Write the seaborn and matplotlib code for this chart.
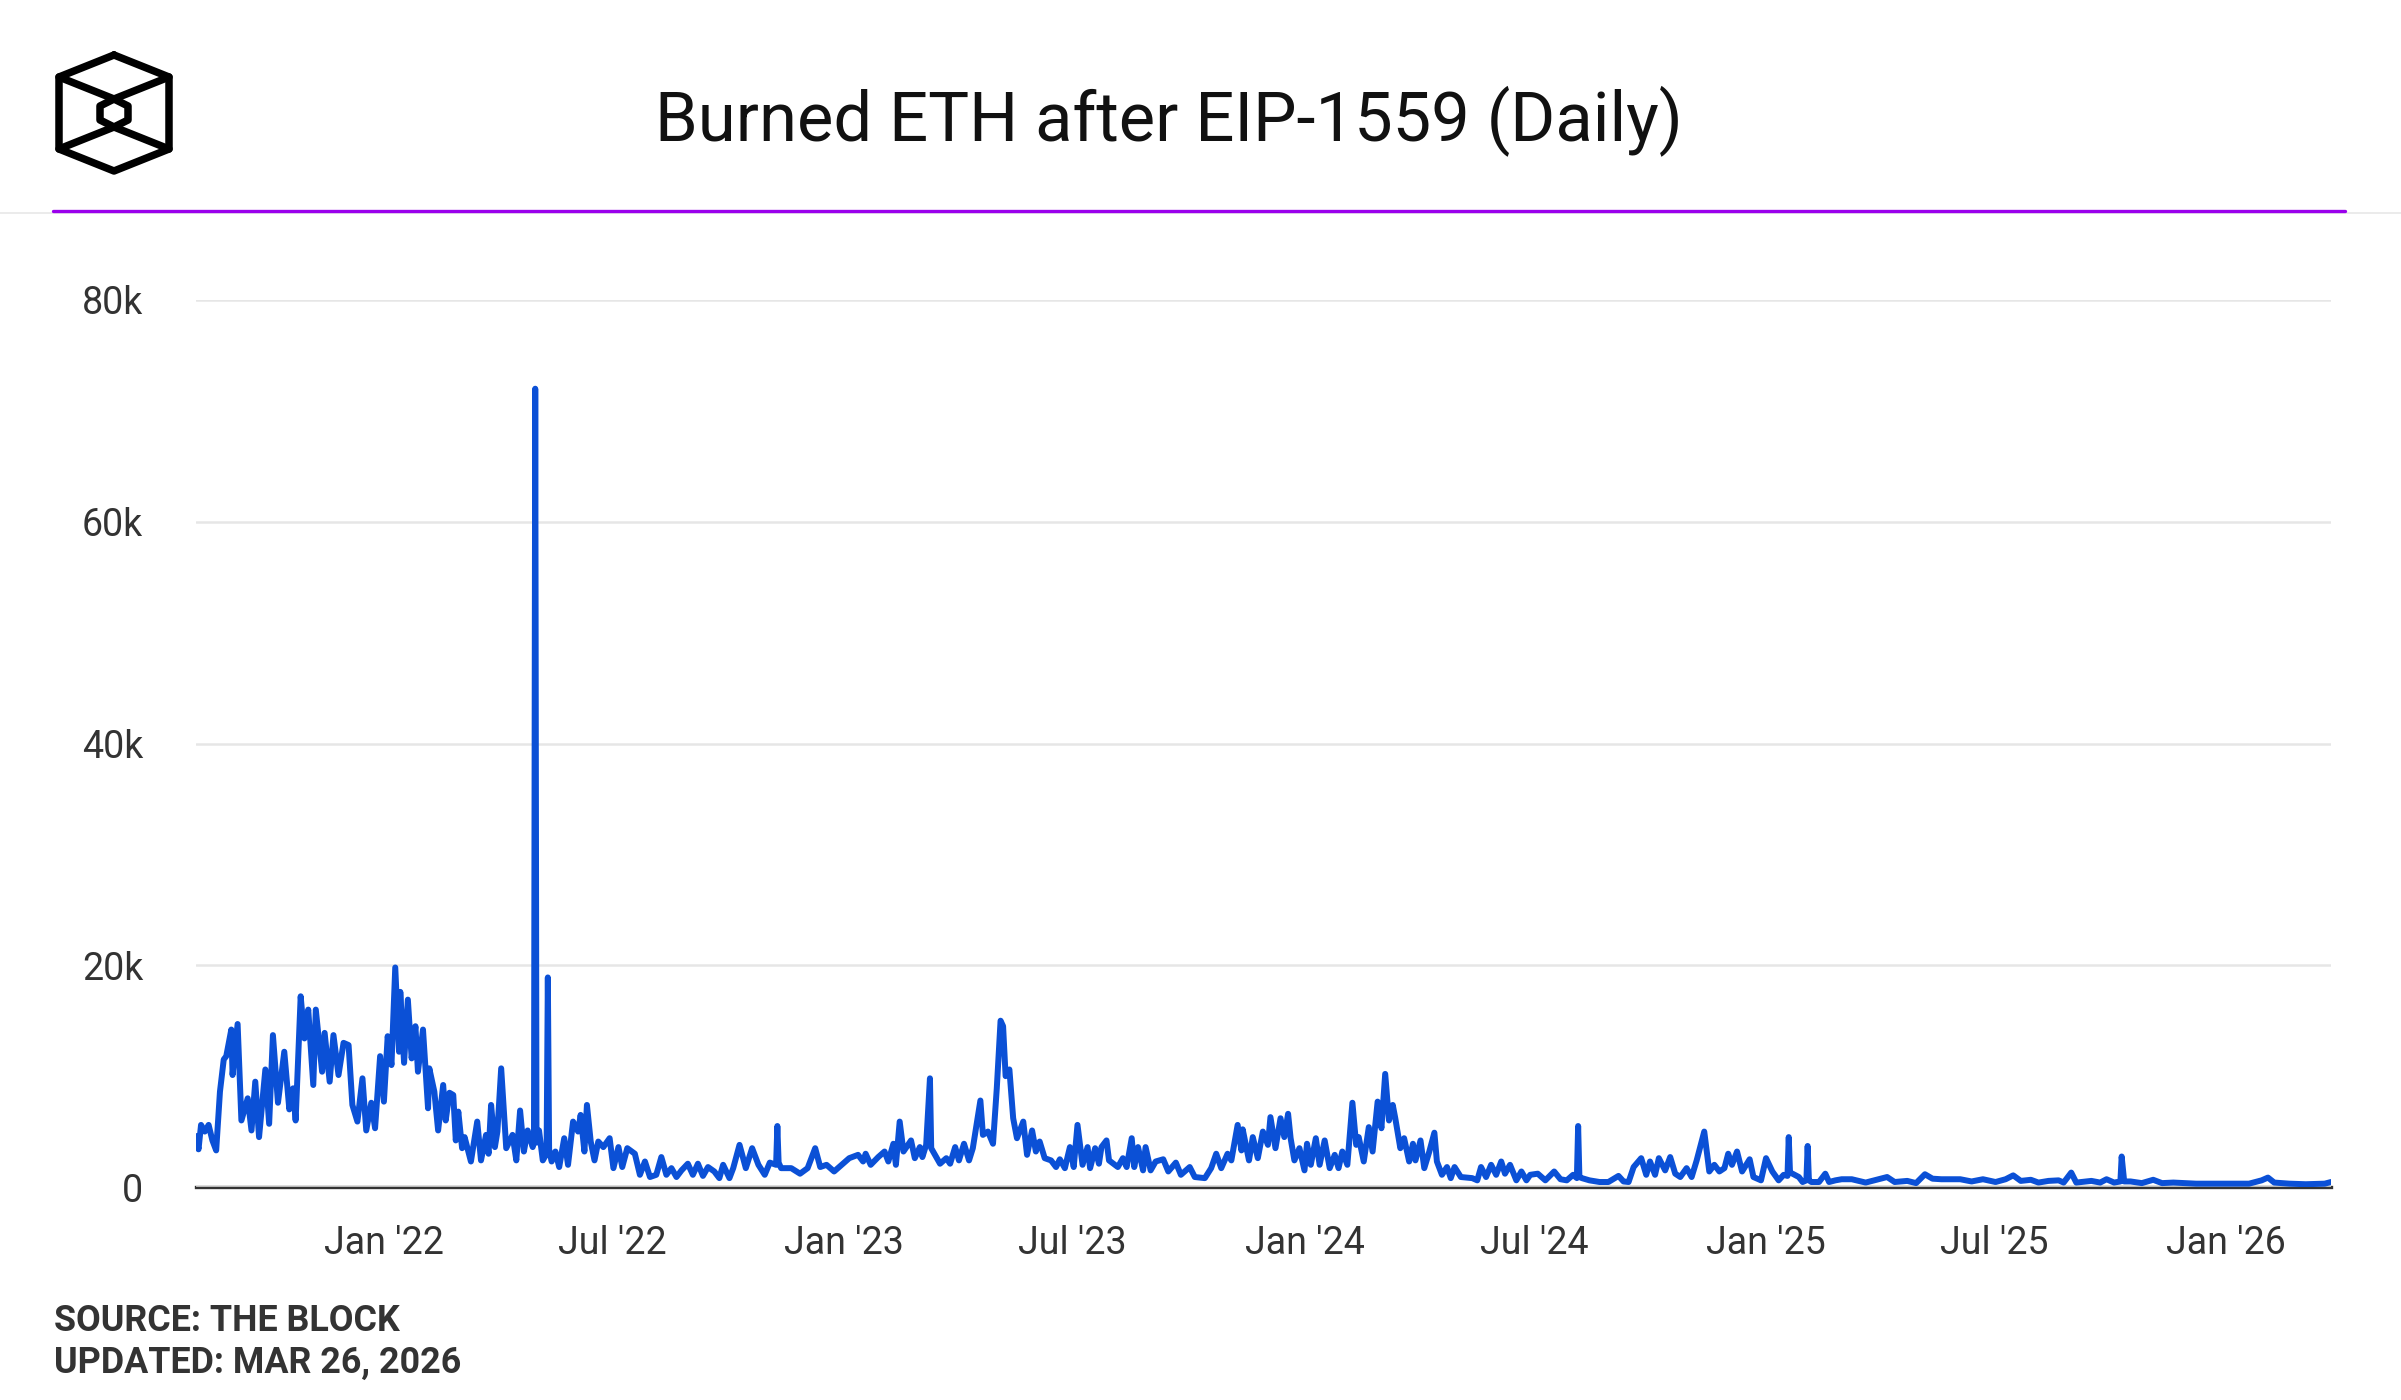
import pandas as pd
import matplotlib
matplotlib.use("Agg")
import matplotlib.pyplot as plt
import matplotlib.dates as mdates
from matplotlib.lines import Line2D
from matplotlib.ticker import FuncFormatter
import seaborn as sns

# Daily ETH burned (thousands of ETH)
burn_2021 = [
    ("2021-08-05", 4.6), ("2021-08-07", 3.4), ("2021-08-09", 5.6), ("2021-08-12", 5.0),
    ("2021-08-15", 5.6), ("2021-08-18", 4.2), ("2021-08-21", 3.3), ("2021-08-24", 8.6),
    ("2021-08-27", 11.5), ("2021-08-29", 11.8), ("2021-09-02", 14.2), ("2021-09-03", 10.1),
    ("2021-09-07", 14.7), ("2021-09-10", 6.0), ("2021-09-15", 8.0), ("2021-09-18", 5.1),
    ("2021-09-21", 9.5), ("2021-09-24", 4.5), ("2021-09-29", 10.6), ("2021-10-02", 5.7),
    ("2021-10-05", 13.7), ("2021-10-09", 7.6), ("2021-10-14", 12.2), ("2021-10-18", 7.0),
    ("2021-10-21", 8.9), ("2021-10-23", 6.0), ("2021-10-27", 17.2), ("2021-10-30", 13.4),
    ("2021-11-02", 16.0), ("2021-11-06", 9.2), ("2021-11-08", 16.0), ("2021-11-13", 10.4),
    ("2021-11-15", 13.9), ("2021-11-19", 9.5), ("2021-11-22", 13.7), ("2021-11-26", 10.1),
    ("2021-11-30", 13.0), ("2021-12-04", 12.8), ("2021-12-07", 7.4), ("2021-12-11", 5.9),
    ("2021-12-15", 9.8), ("2021-12-18", 5.1), ("2021-12-22", 7.6), ("2021-12-25", 5.3),
    ("2021-12-29", 11.8),
]
burn_2022 = [
    ("2022-01-01", 7.7), ("2022-01-04", 13.6), ("2022-01-07", 11.0), ("2022-01-10", 19.8),
    ("2022-01-13", 12.2), ("2022-01-14", 17.6), ("2022-01-17", 11.2), ("2022-01-20", 16.9),
    ("2022-01-23", 11.6), ("2022-01-26", 14.5), ("2022-01-28", 10.4), ("2022-02-01", 14.2),
    ("2022-02-05", 7.1), ("2022-02-06", 10.7), ("2022-02-10", 8.6), ("2022-02-13", 5.1),
    ("2022-02-17", 9.2), ("2022-02-19", 6.0), ("2022-02-22", 8.5), ("2022-02-25", 8.3),
    ("2022-02-27", 4.2), ("2022-03-01", 6.8), ("2022-03-04", 3.5), ("2022-03-06", 4.5),
    ("2022-03-11", 2.3), ("2022-03-16", 5.9), ("2022-03-19", 2.4), ("2022-03-23", 4.7),
    ("2022-03-25", 3.0), ("2022-03-27", 7.4), ("2022-03-30", 3.6), ("2022-04-01", 5.0),
    ("2022-04-04", 10.7), ("2022-04-08", 3.5), ("2022-04-13", 4.7), ("2022-04-16", 2.4),
    ("2022-04-19", 6.9), ("2022-04-22", 3.2), ("2022-04-25", 5.1), ("2022-04-29", 3.6),
    ("2022-04-30", 4.2), ("2022-05-01", 72.0), ("2022-05-02", 4.0), ("2022-05-04", 5.1),
    ("2022-05-07", 2.4), ("2022-05-10", 3.0), ("2022-05-11", 18.9), ("2022-05-12", 3.4),
    ("2022-05-14", 2.3), ("2022-05-17", 3.2), ("2022-05-20", 1.8), ("2022-05-24", 4.4),
    ("2022-05-27", 2.0), ("2022-05-31", 5.9), ("2022-06-04", 5.0), ("2022-06-06", 6.5),
    ("2022-06-09", 3.2), ("2022-06-11", 7.4), ("2022-06-14", 4.1), ("2022-06-17", 2.4),
    ("2022-06-20", 4.1), ("2022-06-24", 3.6), ("2022-06-29", 4.4), ("2022-07-02", 1.7),
    ("2022-07-06", 3.6), ("2022-07-09", 1.8), ("2022-07-13", 3.5), ("2022-07-19", 3.0),
    ("2022-07-23", 1.1), ("2022-07-27", 2.3), ("2022-07-31", 0.9), ("2022-08-05", 1.1),
    ("2022-08-09", 2.7), ("2022-08-13", 1.1), ("2022-08-17", 1.7), ("2022-08-21", 0.9),
    ("2022-08-25", 1.5), ("2022-08-30", 2.1), ("2022-09-03", 1.1), ("2022-09-07", 2.1),
    ("2022-09-11", 1.0), ("2022-09-15", 1.8), ("2022-09-20", 1.4), ("2022-09-24", 0.8),
    ("2022-09-27", 2.0), ("2022-10-02", 0.8), ("2022-10-05", 1.7), ("2022-10-10", 3.8),
    ("2022-10-15", 1.7), ("2022-10-20", 3.5), ("2022-10-25", 2.0), ("2022-10-30", 1.1),
    ("2022-11-03", 2.2), ("2022-11-08", 2.0), ("2022-11-09", 5.5), ("2022-11-10", 2.2),
    ("2022-11-12", 1.7), ("2022-11-20", 1.7), ("2022-11-27", 1.2), ("2022-12-03", 1.7),
    ("2022-12-09", 3.5), ("2022-12-13", 1.8), ("2022-12-18", 2.0), ("2022-12-24", 1.4),
    ("2022-12-30", 2.0),
]
burn_2023 = [
    ("2023-01-05", 2.6), ("2023-01-12", 2.9), ("2023-01-16", 2.3), ("2023-01-18", 3.0),
    ("2023-01-22", 2.0), ("2023-01-28", 2.7), ("2023-02-02", 3.2), ("2023-02-05", 2.3),
    ("2023-02-09", 3.9), ("2023-02-11", 2.0), ("2023-02-14", 5.9), ("2023-02-17", 3.2),
    ("2023-02-23", 4.2), ("2023-02-26", 2.6), ("2023-03-02", 3.6), ("2023-03-04", 2.7),
    ("2023-03-07", 3.8), ("2023-03-10", 9.8), ("2023-03-11", 3.5), ("2023-03-14", 2.9),
    ("2023-03-18", 2.1), ("2023-03-23", 2.6), ("2023-03-26", 2.1), ("2023-03-30", 3.6),
    ("2023-04-02", 2.4), ("2023-04-06", 3.9), ("2023-04-10", 2.4), ("2023-04-13", 3.5),
    ("2023-04-19", 7.8), ("2023-04-21", 4.7), ("2023-04-25", 5.0), ("2023-04-29", 3.9),
    ("2023-05-02", 8.9), ("2023-05-05", 15.0), ("2023-05-07", 14.5), ("2023-05-09", 10.0),
    ("2023-05-12", 10.6), ("2023-05-15", 6.2), ("2023-05-18", 4.4), ("2023-05-23", 5.9),
    ("2023-05-26", 2.9), ("2023-05-30", 5.1), ("2023-06-02", 3.2), ("2023-06-05", 4.1),
    ("2023-06-09", 2.6), ("2023-06-14", 2.4), ("2023-06-18", 1.8), ("2023-06-21", 2.5),
    ("2023-06-25", 1.7), ("2023-06-29", 3.6), ("2023-07-02", 1.8), ("2023-07-05", 5.6),
    ("2023-07-09", 2.0), ("2023-07-13", 3.6), ("2023-07-15", 1.7), ("2023-07-19", 3.5),
    ("2023-07-22", 2.1), ("2023-07-24", 3.6), ("2023-07-28", 4.2), ("2023-07-30", 2.4),
    ("2023-08-06", 1.8), ("2023-08-10", 2.6), ("2023-08-13", 1.8), ("2023-08-17", 4.4),
    ("2023-08-19", 1.8), ("2023-08-22", 3.6), ("2023-08-26", 1.5), ("2023-08-28", 3.6),
    ("2023-09-01", 1.5), ("2023-09-05", 2.3), ("2023-09-11", 2.5), ("2023-09-15", 1.4),
    ("2023-09-21", 2.2), ("2023-09-25", 1.1), ("2023-10-02", 1.8), ("2023-10-06", 0.9),
    ("2023-10-14", 0.8), ("2023-10-19", 1.7), ("2023-10-23", 3.0), ("2023-10-27", 1.7),
    ("2023-11-01", 3.0), ("2023-11-04", 2.4), ("2023-11-09", 5.6), ("2023-11-12", 3.3),
    ("2023-11-13", 5.2), ("2023-11-18", 2.4), ("2023-11-21", 4.5), ("2023-11-25", 2.6),
    ("2023-11-29", 5.0), ("2023-12-03", 3.8), ("2023-12-05", 6.3), ("2023-12-09", 3.5),
    ("2023-12-13", 6.2), ("2023-12-16", 4.5), ("2023-12-19", 6.6), ("2023-12-21", 4.4),
    ("2023-12-24", 2.4), ("2023-12-28", 3.5),
]
burn_2024 = [
    ("2024-01-01", 1.5), ("2024-01-03", 3.9), ("2024-01-06", 2.0), ("2024-01-10", 4.4),
    ("2024-01-13", 2.0), ("2024-01-17", 4.2), ("2024-01-21", 1.7), ("2024-01-25", 2.9),
    ("2024-01-28", 1.7), ("2024-01-31", 3.2), ("2024-02-04", 2.0), ("2024-02-08", 7.6),
    ("2024-02-11", 3.8), ("2024-02-13", 4.5), ("2024-02-17", 2.3), ("2024-02-21", 5.4),
    ("2024-02-24", 3.2), ("2024-02-28", 7.7), ("2024-03-02", 5.3), ("2024-03-05", 10.2),
    ("2024-03-08", 6.0), ("2024-03-11", 7.4), ("2024-03-13", 6.2), ("2024-03-17", 3.5),
    ("2024-03-20", 4.4), ("2024-03-24", 2.3), ("2024-03-27", 3.9), ("2024-03-29", 2.4),
    ("2024-04-02", 4.2), ("2024-04-05", 1.7), ("2024-04-09", 3.2), ("2024-04-13", 4.9),
    ("2024-04-15", 2.3), ("2024-04-19", 1.1), ("2024-04-23", 1.8), ("2024-04-26", 0.8),
    ("2024-04-29", 1.8), ("2024-05-04", 0.9), ("2024-05-13", 0.8), ("2024-05-17", 0.6),
    ("2024-05-20", 1.8), ("2024-05-24", 0.9), ("2024-05-28", 2.0), ("2024-06-01", 1.1),
    ("2024-06-05", 2.3), ("2024-06-08", 1.2), ("2024-06-12", 2.0), ("2024-06-17", 0.6),
    ("2024-06-21", 1.4), ("2024-06-25", 0.6), ("2024-06-28", 1.1), ("2024-07-04", 1.2),
    ("2024-07-10", 0.6), ("2024-07-17", 1.4), ("2024-07-22", 0.7), ("2024-07-27", 0.6),
    ("2024-08-01", 1.1), ("2024-08-04", 0.8), ("2024-08-05", 5.5), ("2024-08-06", 0.9),
    ("2024-08-08", 0.8), ("2024-08-14", 0.6), ("2024-08-22", 0.45), ("2024-08-29", 0.45),
    ("2024-09-06", 1.0), ("2024-09-10", 0.5), ("2024-09-14", 0.45), ("2024-09-18", 1.8),
    ("2024-09-24", 2.6), ("2024-09-28", 1.1), ("2024-10-01", 2.3), ("2024-10-05", 1.1),
    ("2024-10-08", 2.6), ("2024-10-13", 1.5), ("2024-10-17", 2.7), ("2024-10-21", 1.2),
    ("2024-10-25", 0.9), ("2024-10-30", 1.7), ("2024-11-03", 0.9), ("2024-11-07", 2.4),
    ("2024-11-13", 5.0), ("2024-11-17", 1.4), ("2024-11-21", 2.0), ("2024-11-25", 1.4),
    ("2024-11-29", 1.7), ("2024-12-02", 3.0), ("2024-12-05", 2.0), ("2024-12-09", 3.2),
    ("2024-12-13", 1.4), ("2024-12-19", 2.5), ("2024-12-22", 0.9), ("2024-12-28", 0.6),
]
burn_2025 = [
    ("2025-01-01", 2.6), ("2025-01-06", 1.4), ("2025-01-11", 0.6), ("2025-01-15", 1.1),
    ("2025-01-18", 1.0), ("2025-01-19", 4.5), ("2025-01-20", 1.3), ("2025-01-22", 1.2),
    ("2025-01-27", 0.9), ("2025-01-30", 0.45), ("2025-02-02", 0.6), ("2025-02-03", 3.7),
    ("2025-02-04", 0.6), ("2025-02-06", 0.45), ("2025-02-12", 0.45), ("2025-02-17", 1.2),
    ("2025-02-20", 0.45), ("2025-02-25", 0.6), ("2025-03-02", 0.7), ("2025-03-10", 0.7),
    ("2025-03-21", 0.4), ("2025-04-07", 0.9), ("2025-04-13", 0.45), ("2025-04-23", 0.55),
    ("2025-04-30", 0.35), ("2025-05-07", 1.15), ("2025-05-13", 0.75), ("2025-05-20", 0.7),
    ("2025-05-27", 0.7), ("2025-06-04", 0.7), ("2025-06-13", 0.5), ("2025-06-22", 0.7),
    ("2025-07-02", 0.45), ("2025-07-10", 0.7), ("2025-07-16", 1.05), ("2025-07-22", 0.55),
    ("2025-07-30", 0.65), ("2025-08-05", 0.4), ("2025-08-13", 0.55), ("2025-08-21", 0.6),
    ("2025-08-25", 0.4), ("2025-08-31", 1.3), ("2025-09-04", 0.4), ("2025-09-16", 0.55),
    ("2025-09-23", 0.4), ("2025-09-28", 0.7), ("2025-10-04", 0.4), ("2025-10-09", 0.5),
    ("2025-10-10", 2.75), ("2025-10-12", 0.5), ("2025-10-17", 0.5), ("2025-10-26", 0.35),
    ("2025-11-04", 0.65), ("2025-11-11", 0.35), ("2025-11-20", 0.4), ("2025-12-08", 0.3),
]
burn_2026 = [
    ("2026-01-03", 0.3), ("2026-01-19", 0.3), ("2026-01-29", 0.6), ("2026-02-03", 0.85),
    ("2026-02-08", 0.4), ("2026-02-20", 0.3), ("2026-03-05", 0.25), ("2026-03-20", 0.3),
    ("2026-03-25", 0.45),
]

title = "Burned ETH after EIP-1559 (Daily)"
source_lines = ["SOURCE: THE BLOCK", "UPDATED: MAR 26, 2026"]
y_ticks = [0, 20, 40, 60, 80]

rows = burn_2021 + burn_2022 + burn_2023 + burn_2024 + burn_2025 + burn_2026
df = pd.DataFrame(rows, columns=["date", "burned_k"])
df["date"] = pd.to_datetime(df["date"])

sns.set_style("white")
plt.rcParams["font.family"] = ["Roboto", "DejaVu Sans"]

W, H = 2401, 1400
fig = plt.figure(figsize=(W / 100, H / 100), dpi=100)
fig.patch.set_facecolor("white")

# main axes, placed in pixel terms of the reference
ax = fig.add_axes([196 / W, 1 - 1187 / H, (2331 - 196) / W, (1187 - 300) / H])
sns.lineplot(data=df, x="date", y="burned_k", ax=ax, color="#0b50d6",
             linewidth=4.3, estimator=None)

ax.set_ylim(0, 80)
ax.set_xlim(df["date"].min(), df["date"].max())
ax.set_yticks(y_ticks)
ax.yaxis.set_major_formatter(FuncFormatter(lambda v, p: "0" if v == 0 else f"{int(v)}k"))
ax.xaxis.set_major_locator(mdates.MonthLocator(bymonth=[1, 7]))
ax.xaxis.set_major_formatter(mdates.DateFormatter("%b '%y"))
ax.grid(axis="y", color="#e6e6e6", linewidth=1.8)
ax.set_axisbelow(True)
for s in ["top", "right", "left"]:
    ax.spines[s].set_visible(False)
ax.spines["bottom"].set_color("#333333")
ax.spines["bottom"].set_linewidth(2.4)
ax.spines["bottom"].set_zorder(0.5)
ax.tick_params(axis="y", length=0, pad=38, labelsize=27, labelcolor="#333333")
ax.tick_params(axis="x", length=0, pad=27, labelsize=27, labelcolor="#333333")
ax.set_xlabel("")
ax.set_ylabel("")

# header: title, rules, logo
fig.text(1169 / W, 1 - 121 / H, title, ha="center", va="center",
         fontsize=49.5, color="#111111")
fig.add_artist(Line2D([0, 1], [1 - 213 / H] * 2, color="#e8e8e8", linewidth=1.2))
fig.add_artist(Line2D([53 / W, 2345 / W], [1 - 211 / H] * 2, color="#9a00ec", linewidth=2.4))

lg = fig.add_axes([40 / W, 1 - 190 / H, 150 / W, 150 / H])
lg.set_xlim(40, 190)
lg.set_ylim(190, 40)
lg.axis("off")
kw = dict(color="black", linewidth=5.4, solid_joinstyle="round", solid_capstyle="round")
lg.plot([114, 169, 169, 114, 59, 59, 114], [55, 77, 149, 171, 149, 77, 55], **kw)
lg.plot([59, 114, 169], [77, 99, 77], **kw)
lg.plot([59, 114, 169], [149, 127, 149], **kw)
lg.plot([114, 128, 128, 114, 100, 100, 114], [99, 106, 120, 127, 120, 106, 99], **kw)

# footer
for i, line in enumerate(source_lines):
    fig.text(54 / W, 1 - (1321 + 42 * i) / H, line, ha="left", va="center",
             fontsize=25.8, fontweight="bold", color="#333333")

fig.savefig("out.png", dpi=100, facecolor="white")
